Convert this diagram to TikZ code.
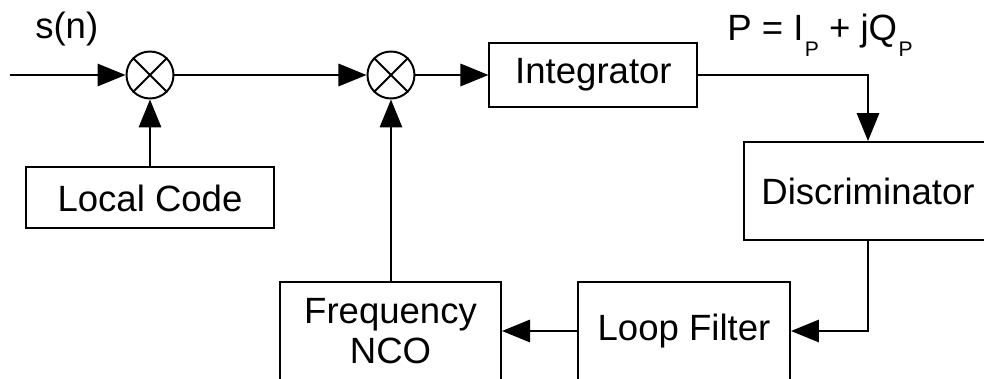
\documentclass[tikz,border=0pt]{standalone}
\usepackage{fontspec}
\setmainfont{Liberation Sans}
\usetikzlibrary{positioning,arrows.meta}

\newcommand{\lowidx}[1]{\raisebox{-11pt}{\fontsize{15}{15}\selectfont #1}}

\tikzset{
  block/.style={draw, line width=1.4pt, inner sep=0pt, align=center},
  mixer/.style={draw, circle, line width=1.4pt, minimum size=1.175cm, inner sep=0pt},
  sig/.style={line width=1.4pt, -{Triangle[length=0.7cm,width=0.56cm]}},
}

\begin{document}
\begin{tikzpicture}[font=\fontsize{26}{28.5}\selectfont]
    \useasboundingbox (0,0) rectangle (24.6,-9.475);

    \coordinate (in) at (0.25,-1.875);
    \node[mixer] (mixa) at (3.75,-1.875) {};
    \node[mixer, right=4.8cm of mixa] (mixb) {};
    \node[block, right=1.825cm of mixb, minimum width=5.2cm, minimum height=1.6cm] (integ) {Integrator};
    \node[block, below=1.675cm of mixa, minimum width=6.2cm, minimum height=1.525cm] (code) {Local Code};
    \node[block, minimum width=6.2cm, minimum height=2.45cm] (disc) at (21.7,-4.775) {Discriminator};
    \node[block, minimum width=5.3cm, minimum height=2.45cm] (loop) at (17.1,-8.275) {Loop Filter};
    \node[block, left=1.875cm of loop, minimum width=5.525cm, minimum height=2.45cm] (nco) {Frequency\\NCO};

    % crosses inside the mixers
    \foreach \m in {mixa, mixb}
        \draw[line width=1.4pt] (\m.45) -- (\m.225) (\m.135) -- (\m.315);

    \node[anchor=base west, inner sep=0pt] (sn) at (0.875,-0.975) {s(n)};
    \node[anchor=base west, inner sep=0pt] (p) at (18.175,-1.025) {P = I\kern1pt\lowidx{P} + jQ\kern1pt\lowidx{P}};

    \draw[sig] (in) -- (mixa);
    \draw[sig] (mixa) -- (mixb);
    \draw[sig] (mixb) -- (integ);
    \draw[sig] (code.north -| mixa) -- (mixa);
    \draw[sig] (integ.east) -| (disc.north);
    \draw[sig] (disc.south) |- (loop.east);
    \draw[sig] (loop) -- (nco);
    \draw[sig] (nco.north -| mixb) -- (mixb);
\end{tikzpicture}
\end{document}
